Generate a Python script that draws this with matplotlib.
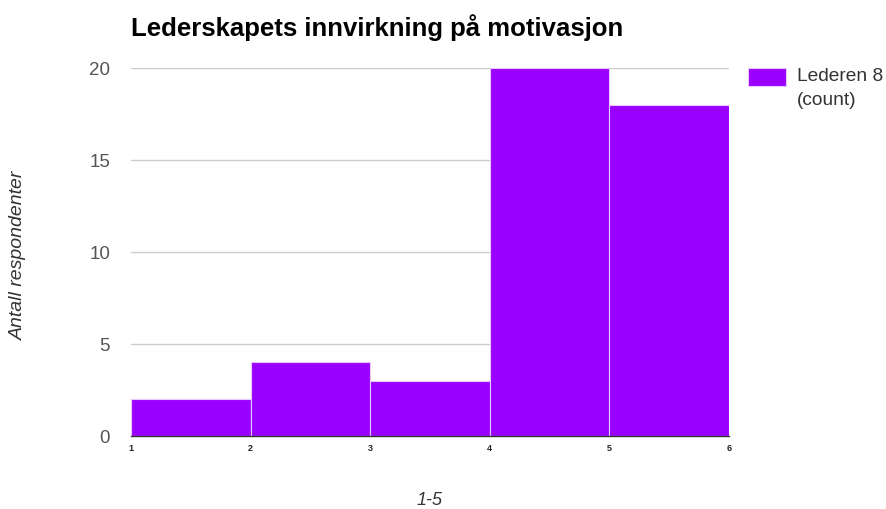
import matplotlib
matplotlib.use("Agg")
import matplotlib.pyplot as plt

# Histogram of answers on a 1-5 scale (bins 1-2, 2-3, ..., 5-6)
bin_edges = [1, 2, 3, 4, 5, 6]
counts = [2, 4, 3, 20, 18]
series_name = "Lederen 8\n(count)"
title = "Lederskapets innvirkning på motivasjon"
x_label = "1-5"
y_label = "Antall respondenter"
y_ticks = [0, 5, 10, 15, 20]

plt.rcParams['font.family'] = ['Liberation Sans', 'DejaVu Sans']

W, H = 886, 510
fig = plt.figure(figsize=(W / 100, H / 100), dpi=100)
ax = fig.add_axes([131 / W, 1 - 437 / H, (729 - 131) / W, (437 - 69) / H])

lefts = bin_edges[:-1]
widths = [b - a for a, b in zip(bin_edges[:-1], bin_edges[1:])]
ax.bar(lefts, counts, width=widths, align='edge', color='#9900ff',
       edgecolor='#e8c8ff', linewidth=0.8, zorder=2)

ax.set_xlim(bin_edges[0], bin_edges[-1])
ax.set_ylim(0, 20)
ax.set_yticks(y_ticks)
ax.set_xticks(bin_edges)
ax.set_xticklabels([str(v) for v in bin_edges], fontsize=6.5, fontweight='bold', color='#222222')
ax.set_yticklabels([str(v) for v in y_ticks], fontsize=13.5, color='#555555')
ax.tick_params(axis='both', length=0)
ax.tick_params(axis='y', pad=15)
ax.tick_params(axis='x', pad=5)

ax.grid(axis='y', color='#cccccc', linewidth=1, zorder=0)
for s in ['top', 'right', 'left']:
    ax.spines[s].set_visible(False)
ax.spines['bottom'].set_color('#333333')
ax.spines['bottom'].set_linewidth(1)
ax.spines['bottom'].set_zorder(3)

fig.text(131 / W, 1 - 28 / H, title, fontsize=18.5, fontweight='bold',
         color='#000000', ha='left', va='center')
fig.text(18 / W, 1 - 255 / H, y_label, fontsize=14, style='italic',
         color='#333333', rotation=90, ha='center', va='center')
fig.text(430 / W, 1 - 501 / H, x_label, fontsize=13, style='italic',
         color='#333333', ha='center', va='center')

# Legend swatch and label
fig.patches.append(plt.Rectangle((748 / W, 1 - 87 / H), 38 / W, 18 / H,
                                 transform=fig.transFigure, facecolor='#9900ff',
                                 edgecolor='#e8c8ff', linewidth=0.8))
fig.text(797 / W, 1 - 68 / H, series_name, fontsize=13.8, color='#333333',
         ha='left', va='top', linespacing=1.55)

fig.savefig("out.png", dpi=100)
